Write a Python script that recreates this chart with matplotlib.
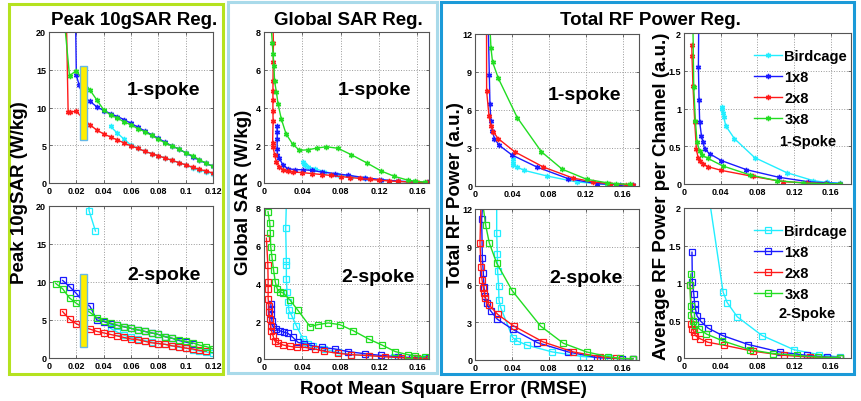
import numpy as np
import matplotlib
matplotlib.use("Agg")
import matplotlib.pyplot as plt
from matplotlib.patches import Rectangle
from matplotlib.ticker import FuncFormatter

plt.rcParams['font.family'] = ['Liberation Sans', 'DejaVu Sans']
plt.rcParams['font.weight'] = 'bold'

nan = np.nan
series_names = ["Birdcage", "1x8", "2x8", "3x8"]

# ---- Peak 10gSAR regularisation, 1 spoke ----
p1_cage_x = [0.045, 0.05, 0.055, 0.06, 0.065, 0.07, 0.075, 0.08, 0.085, 0.09, 0.095, 0.1, 0.105, 0.11, 0.115, 0.12]
p1_cage_y = [7.5, 6.6, 5.8, 5.0, 4.6, 4.2, 3.9, 3.6, 3.3, 3.0, 2.7, 2.4, 2.0, 1.7, 1.5, 1.2]
p1_1x8_x = [0.0195, 0.02, 0.022, 0.025, 0.03, 0.035, 0.04, 0.045, 0.05, 0.055, 0.06, 0.065, 0.07, 0.075,
            0.08, 0.085, 0.09, 0.095, 0.1, 0.105, 0.11, 0.115, 0.12]
p1_1x8_y = [21, 14.3, 13.0, 11.4, 10.8, 10.1, 9.6, 9.2, 8.8, 8.4, 7.9, 7.4, 6.9, 6.4, 5.9, 5.4, 4.9, 4.5,
            4.0, 3.5, 3.0, 2.6, 2.2]
p1_2x8_x = [0.0128, 0.014, 0.015, 0.02, 0.025, 0.03, 0.035, 0.04, 0.045, 0.05, 0.055, 0.06, 0.065, 0.07,
            0.075, 0.08, 0.085, 0.09, 0.095, 0.1, 0.105, 0.11, 0.115, 0.12]
p1_2x8_y = [21, 9.4, 9.4, 9.5, 8.5, 7.7, 7.0, 6.5, 6.1, 5.7, 5.3, 4.9, 4.6, 4.2, 3.9, 3.6, 3.3, 3.0, 2.7,
            2.4, 2.1, 1.8, 1.6, 1.3]
p1_3x8_x = [0.0115, 0.015, 0.02, 0.025, 0.03, 0.035, 0.04, 0.045, 0.05, 0.055, 0.06, 0.065, 0.07, 0.075,
            0.08, 0.085, 0.09, 0.095, 0.1, 0.105, 0.11, 0.115, 0.12]
p1_3x8_y = [21, 14.2, 14.9, 13.5, 12.3, 11.0, 9.7, 9.0, 8.6, 8.1, 7.7, 7.2, 6.8, 6.3, 5.8, 5.3, 4.9, 4.5,
            4.0, 3.6, 3.1, 2.6, 2.2]

# ---- Peak 10gSAR regularisation, 2 spokes ----
p2_cage_x = [0.0292, 0.0293, 0.034, nan, 0.045, 0.05, 0.055, 0.06, 0.065, 0.07, 0.075, 0.08, 0.085, 0.09,
             0.095, 0.1, 0.105, 0.11, 0.115, 0.12]
p2_cage_y = [21, 19.4, 16.7, nan, 3.9, 3.4, 3.0, 2.7, 2.5, 2.3, 2.1, 1.9, 1.8, 1.6, 1.4, 1.3, 1.1, 0.9,
             0.8, 0.6]
p2_1x8_x = [0.01, 0.015, 0.02, 0.025, 0.03, 0.035, 0.04, 0.045, 0.05, 0.055, 0.06, 0.065, 0.07, 0.075,
            0.08, 0.085, 0.09, 0.095, 0.1, 0.105]
p2_1x8_y = [10.2, 9.4, 8.5, 7.4, 6.8, 5.0, 4.8, 4.5, 4.3, 4.1, 3.9, 3.7, 3.5, 3.3, 3.1, 2.8, 2.6, 2.3,
            2.1, 1.9]
p2_2x8_x = [0.01, 0.015, 0.02, 0.025, 0.03, 0.035, 0.04, 0.045, 0.05, 0.055, 0.06, 0.065, 0.07, 0.075,
            0.08, 0.085, 0.09, 0.095, 0.1, 0.105, 0.11, 0.115]
p2_2x8_y = [6.1, 5.1, 4.5, 4.1, 3.8, 3.5, 3.3, 3.1, 2.9, 2.7, 2.5, 2.4, 2.2, 2.0, 1.9, 1.8, 1.6, 1.5,
            1.3, 1.2, 1.0, 0.9]
p2_3x8_x = [0.005, 0.01, 0.015, 0.02, 0.025, 0.03, 0.035, 0.04, 0.045, 0.05, 0.055, 0.06, 0.065, 0.07,
            0.075, 0.08, 0.085, 0.09, 0.095, 0.1, 0.105, 0.11, 0.115, 0.12]
p2_3x8_y = [9.8, 9.1, 7.9, 7.2, 6.6, 6.0, 5.3, 4.9, 4.6, 4.3, 4.1, 3.9, 3.7, 3.5, 3.3, 3.1, 2.8, 2.6,
            2.4, 2.2, 2.0, 1.7, 1.5, 1.2]

# ---- Global SAR regularisation, 1 spoke ----
g1_cage_x = [0.041, 0.0415, 0.0424, 0.046, 0.053, 0.063, 0.077, 0.091, 0.105, 0.122, 0.14, 0.155, 0.168]
g1_cage_y = [1.1, 1.0, 0.94, 0.85, 0.76, 0.6, 0.45, 0.33, 0.26, 0.15, 0.09, 0.05, 0.02]
g1_1x8_x = [0.0135, 0.0138, 0.0137, 0.0137, 0.014, 0.016, 0.02, 0.025, 0.032, 0.041, 0.05, 0.06, 0.074,
            0.088, 0.105, 0.122, 0.14, 0.157, 0.171]
g1_1x8_y = [3.0, 2.7, 2.35, 1.8, 1.5, 1.3, 0.94, 0.76, 0.71, 0.7, 0.67, 0.58, 0.5, 0.41, 0.28, 0.18, 0.1,
            0.05, 0.03]
g1_2x8_x = [0.0095, 0.0098, 0.0096, 0.0094, 0.0093, 0.0093, 0.0093, 0.0095, 0.009, 0.0095, 0.011, 0.013,
            0.016, 0.02, 0.025, 0.03, 0.04, 0.05, 0.06, 0.07, 0.08, 0.09, 0.1, 0.11, 0.12, 0.13, 0.14,
            0.15, 0.16, 0.17]
g1_2x8_y = [8.2, 7.4, 6.4, 5.4, 4.9, 4.4, 3.8, 3.3, 2.1, 1.9, 1.5, 1.1, 0.85, 0.7, 0.62, 0.58, 0.55, 0.5,
            0.45, 0.4, 0.34, 0.29, 0.24, 0.19, 0.15, 0.11, 0.08, 0.06, 0.04, 0.03]
g1_3x8_x = [0.0077, 0.0087, 0.0094, 0.0104, 0.011, 0.013, 0.0146, 0.018, 0.023, 0.03, 0.037, 0.046,
            0.055, 0.065, 0.077, 0.091, 0.107, 0.122, 0.136, 0.15, 0.157, 0.168]
g1_3x8_y = [8.1, 7.4, 6.85, 6.2, 5.4, 4.8, 4.2, 3.4, 2.6, 2.05, 1.73, 1.76, 1.85, 1.92, 1.84, 1.5, 1.07,
            0.64, 0.35, 0.15, 0.1, 0.04]

# ---- Global SAR regularisation, 2 spokes ----
g2_cage_x = [0.0233, 0.0226, 0.0233, 0.0233, 0.0233, 0.024, 0.025, 0.026, 0.0285, 0.0337, 0.0407, 0.042,
             0.046, 0.051, 0.063, 0.077, 0.091, 0.109, 0.136, 0.154, 0.168]
g2_cage_y = [8.2, 6.95, 5.2, 5.0, 4.25, 3.54, 3.0, 2.57, 2.34, 1.77, 1.06, 0.88, 0.8, 0.67, 0.53, 0.35,
             0.23, 0.18, 0.09, 0.05, 0.04]
g2_1x8_x = [0.0071, 0.0077, 0.0077, 0.0083, 0.0094, 0.013, 0.0163, 0.021, 0.025, 0.03, 0.0355, 0.042,
            0.049, 0.06, 0.074, 0.088, 0.105, 0.122, 0.14, 0.154, 0.172]
g2_1x8_y = [2.9, 2.65, 2.4, 2.0, 1.7, 1.6, 1.5, 1.42, 1.36, 1.15, 0.88, 0.8, 0.71, 0.62, 0.53, 0.39, 0.28,
            0.19, 0.12, 0.07, 0.05]
g2_2x8_x = [0.0025, 0.004, 0.0043, 0.0043, 0.0043, 0.0052, 0.0052, 0.006, 0.007, 0.0077, 0.0094, 0.011,
            0.0146, 0.02, 0.027, 0.034, 0.043, 0.053, 0.063, 0.077, 0.091, 0.109, 0.126, 0.143, 0.16, 0.171]
g2_2x8_y = [6.4, 5.0, 4.07, 3.7, 3.2, 2.8, 2.5, 2.1, 1.77, 1.5, 1.24, 0.97, 0.85, 0.74, 0.67, 0.62, 0.62,
            0.53, 0.41, 0.3, 0.23, 0.18, 0.12, 0.07, 0.04, 0.02]
g2_3x8_x = [0.0042, 0.006, 0.0066, 0.007, 0.0083, 0.01, 0.0118, 0.0139, 0.0163, 0.02, 0.027, 0.0355,
            0.048, 0.056, 0.067, 0.079, 0.093, 0.109, 0.123, 0.137, 0.15, 0.157, 0.168]
g2_3x8_y = [7.8, 7.2, 6.67, 5.96, 5.4, 4.7, 4.07, 3.7, 3.57, 3.5, 3.13, 2.57, 1.72, 1.82, 1.91, 1.82, 1.5,
            1.06, 0.74, 0.39, 0.23, 0.16, 0.12]

# ---- Total RF power regularisation, 1 spoke ----
t1_cage_x = [0.0408, 0.0408, 0.0415, 0.045, 0.053, 0.078, 0.11, 0.1426, 0.157, 0.171]
t1_cage_y = [2.1, 1.85, 1.66, 1.53, 1.24, 0.79, 0.32, 0.13, 0.08, 0.08]
t1_1x8_x = [0.0144, 0.0155, 0.0162, 0.0173, 0.0188, 0.021, 0.0264, 0.04, 0.067, 0.101, 0.132, 0.157, 0.171]
t1_1x8_y = [12.5, 8.8, 6.5, 5.1, 4.35, 3.75, 3.2, 2.45, 1.5, 0.58, 0.18, 0.1, 0.08]
t1_2x8_x = [0.0125, 0.0126, 0.0152, 0.0173, 0.02, 0.025, 0.043, 0.074, 0.106, 0.128, 0.146, 0.164, 0.171]
t1_2x8_y = [12.5, 7.5, 5.5, 4.75, 4.27, 3.75, 2.7, 1.5, 0.63, 0.32, 0.18, 0.1, 0.08]
t1_3x8_x = [0.0162, 0.0173, 0.019, 0.0253, 0.0458, 0.072, 0.0946, 0.121, 0.1426, 0.153, 0.168]
t1_3x8_y = [12.5, 10.9, 9.8, 8.5, 5.4, 2.7, 1.32, 0.53, 0.26, 0.18, 0.13]

# ---- Total RF power regularisation, 2 spokes ----
t2_cage_x = [0.0235, 0.0235, 0.0242, 0.0245, 0.0256, 0.026, 0.0278, 0.0408, 0.0458, 0.0567, 0.0838,
             0.117, 0.146, 0.171]
t2_cage_y = [12.5, 10.1, 8.4, 7.1, 5.9, 4.75, 4.16, 1.78, 1.51, 1.17, 0.64, 0.27, 0.13, 0.1]
t2_1x8_x = [0.0085, 0.0072, 0.008, 0.009, 0.0097, 0.0108, 0.0126, 0.017, 0.0242, 0.0408, 0.0675, 0.101,
            0.132, 0.159, 0.171]
t2_1x8_y = [12.5, 11.2, 8.1, 6.95, 5.84, 5.1, 4.5, 3.9, 3.24, 2.44, 1.38, 0.64, 0.19, 0.1, 0.1]
t2_2x8_x = [0.0065, 0.0054, 0.0065, 0.0076, 0.009, 0.0101, 0.0108, 0.0155, 0.0245, 0.042, 0.074, 0.1065,
            0.135, 0.153, 0.171]
t2_2x8_y = [12.5, 9.3, 7.4, 6.37, 5.76, 5.36, 4.96, 4.35, 3.63, 2.7, 1.43, 0.64, 0.27, 0.13, 0.1]
t2_3x8_x = [0.0083, 0.0116, 0.0155, 0.0235, 0.0404, 0.071, 0.0957, 0.121, 0.144, 0.157, 0.171]
t2_3x8_y = [12.5, 10.7, 9.3, 7.7, 5.5, 2.7, 1.33, 0.64, 0.27, 0.13, 0.1]

# ---- Average RF power per channel, 1 spoke ----
a1_cage_x = [0.0415, 0.0419, 0.0425, 0.0433, 0.0455, 0.055, 0.077, 0.112, 0.141, 0.156, 0.17]
a1_cage_y = [1.02, 0.99, 0.94, 0.89, 0.77, 0.6, 0.35, 0.15, 0.044, 0.02, 0.013]
a1_1x8_x = [0.016, 0.0157, 0.0164, 0.0171, 0.019, 0.0208, 0.0226, 0.028, 0.0408, 0.068, 0.103, 0.1355,
            0.155, 0.17]
a1_1x8_y = [2.05, 1.55, 1.11, 0.82, 0.64, 0.55, 0.46, 0.4, 0.31, 0.19, 0.09, 0.03, 0.015, 0.005]
a1_2x8_x = [0.0085, 0.0087, 0.0098, 0.0117, 0.0135, 0.0153, 0.0171, 0.0208, 0.026, 0.0408, 0.0754, 0.108,
            0.134, 0.155, 0.17]
a1_2x8_y = [1.84, 1.7, 1.3, 0.82, 0.46, 0.35, 0.3, 0.27, 0.23, 0.18, 0.1, 0.03, 0.015, 0.005, 0.002]
a1_3x8_x = [0.0098, 0.0106, 0.0124, 0.0142, 0.0171, 0.02, 0.026, 0.042, 0.072, 0.101, 0.13, 0.155, 0.17]
a1_3x8_y = [2.05, 1.28, 0.84, 0.55, 0.44, 0.38, 0.34, 0.24, 0.12, 0.045, 0.013, 0.005, 0.002]

# ---- Average RF power per channel, 2 spokes ----
a2_cage_x = [0.0266, 0.0426, 0.047, 0.058, 0.085, 0.12, 0.1475, 0.17]
a2_cage_y = [2.2, 0.88, 0.74, 0.55, 0.3, 0.11, 0.044, 0.013]
a2_1x8_x = [0.0087, 0.0091, 0.0106, 0.0117, 0.0124, 0.0142, 0.0182, 0.026, 0.0419, 0.07, 0.1045, 0.134,
            0.156, 0.17]
a2_1x8_y = [1.41, 1.01, 0.86, 0.72, 0.66, 0.56, 0.49, 0.4, 0.3, 0.18, 0.08, 0.035, 0.013, 0.005]
a2_2x8_x = [0.0069, 0.008, 0.0091, 0.011, 0.0124, 0.0171, 0.026, 0.0437, 0.0754, 0.109, 0.137, 0.17]
a2_2x8_y = [0.97, 0.46, 0.39, 0.35, 0.3, 0.26, 0.21, 0.17, 0.09, 0.035, 0.013, 0.005]
a2_3x8_x = [0.0075, 0.0065, 0.0073, 0.008, 0.0098, 0.0117, 0.0164, 0.0244, 0.0419, 0.0718, 0.097, 0.123,
            0.146, 0.17]
a2_3x8_y = [1.12, 0.97, 0.7, 0.58, 0.5, 0.44, 0.39, 0.32, 0.23, 0.11, 0.06, 0.035, 0.013, 0.005]

# highlighted RMSE band in the peak 10gSAR panels (x range, y range)
hl_x = (0.0225, 0.0275)
hl1_y = (5.7, 15.5)
hl2_y = (1.5, 11.0)

colors = ['#22eeff', '#1a1aff', '#ff1a1a', '#22dd22']
W, H = 861, 402

fig = plt.figure(figsize=(W / 100, H / 100), dpi=100)


def add_ax(l, t, r, b):
    return fig.add_axes([l / W, 1 - b / H, (r - l) / W, (b - t) / H])


def style_ax(ax, xlim, ylim, xticks, yticks):
    ax.set_xlim(*xlim)
    ax.set_ylim(*ylim)
    ax.set_xticks(xticks)
    ax.set_yticks(yticks)
    fmt = FuncFormatter(lambda v, p: '%g' % round(v, 4))
    ax.xaxis.set_major_formatter(fmt)
    ax.yaxis.set_major_formatter(fmt)
    ax.tick_params(direction='in', length=2, width=0.6, labelsize=6.5, pad=2,
                   top=True, right=True, color='#555555')
    for lab in ax.get_xticklabels() + ax.get_yticklabels():
        lab.set_fontweight('bold')
    ax.grid(True, linestyle=':', color='#999999', linewidth=0.7)
    for s in ax.spines.values():
        s.set_color('#555555')
        s.set_linewidth(0.8)


def draw(ax, data, spokes):
    for (x, y), c, name in zip(data, colors, series_names):
        if spokes == 1:
            ax.plot(x, y, color=c, lw=1.0, marker=(6, 2, 0), ms=3.8, mew=1.0, label=name)
        else:
            ax.plot(x, y, color=c, lw=1.0, marker='s', ms=4, mew=0.9, mfc='none', label=name)


def spoke_text(ax, txt, fx, fy):
    ax.text(fx, fy, txt, transform=ax.transAxes, ha='center', va='center',
            fontsize=14, fontweight='bold')


# frames round each regularisation group
for (l, t, r, b), c, lw in [((9, 5, 223, 375), '#b5e21f', 2.2),
                            ((228, 3, 437, 374), '#a9daea', 2.2),
                            ((441, 3, 854, 375), '#1b9ad8', 2.2)]:
    fig.patches.append(Rectangle((l / W, 1 - b / H), (r - l) / W, (b - t) / H,
                                 transform=fig.transFigure, fill=False, edgecolor=c,
                                 linewidth=lw))

# peak 10gSAR
ax = add_ax(49, 33, 213, 184)
draw(ax, [(p1_cage_x, p1_cage_y), (p1_1x8_x, p1_1x8_y), (p1_2x8_x, p1_2x8_y), (p1_3x8_x, p1_3x8_y)], 1)
style_ax(ax, (0, 0.12), (0, 20), np.arange(0, 0.121, 0.02), [0, 5, 10, 15, 20])
ax.add_patch(Rectangle((hl_x[0], hl1_y[0]), hl_x[1] - hl_x[0], hl1_y[1] - hl1_y[0],
                       facecolor='#ffee00', edgecolor='#66b8e8', lw=1.0, zorder=4))
spoke_text(ax, '1-spoke', 0.70, 0.62)

ax = add_ax(49, 207, 213, 359)
draw(ax, [(p2_cage_x, p2_cage_y), (p2_1x8_x, p2_1x8_y), (p2_2x8_x, p2_2x8_y), (p2_3x8_x, p2_3x8_y)], 2)
style_ax(ax, (0, 0.12), (0, 20), np.arange(0, 0.121, 0.02), [0, 5, 10, 15, 20])
ax.add_patch(Rectangle((hl_x[0], hl2_y[0]), hl_x[1] - hl_x[0], hl2_y[1] - hl2_y[0],
                       facecolor='#ffee00', edgecolor='#66b8e8', lw=1.0, zorder=4))
spoke_text(ax, '2-spoke', 0.70, 0.55)

# global SAR
ax = add_ax(264, 33, 429, 184)
draw(ax, [(g1_cage_x, g1_cage_y), (g1_1x8_x, g1_1x8_y), (g1_2x8_x, g1_2x8_y), (g1_3x8_x, g1_3x8_y)], 1)
style_ax(ax, (0, 0.172), (0, 8), [0, 0.04, 0.08, 0.12, 0.16], [0, 2, 4, 6, 8])
spoke_text(ax, '1-spoke', 0.67, 0.62)

ax = add_ax(264, 209, 429, 360)
draw(ax, [(g2_cage_x, g2_cage_y), (g2_1x8_x, g2_1x8_y), (g2_2x8_x, g2_2x8_y), (g2_3x8_x, g2_3x8_y)], 2)
style_ax(ax, (0, 0.172), (0, 8), [0, 0.04, 0.08, 0.12, 0.16], [0, 2, 4, 6, 8])
spoke_text(ax, '2-spoke', 0.69, 0.545)

# total RF power
ax = add_ax(475, 35, 639, 187)
draw(ax, [(t1_cage_x, t1_cage_y), (t1_1x8_x, t1_1x8_y), (t1_2x8_x, t1_2x8_y), (t1_3x8_x, t1_3x8_y)], 1)
style_ax(ax, (0, 0.1777), (0, 12), [0, 0.04, 0.08, 0.12, 0.16], [0, 3, 6, 9, 12])
spoke_text(ax, '1-spoke', 0.67, 0.605)

ax = add_ax(475, 210, 639, 361)
draw(ax, [(t2_cage_x, t2_cage_y), (t2_1x8_x, t2_1x8_y), (t2_2x8_x, t2_2x8_y), (t2_3x8_x, t2_3x8_y)], 2)
style_ax(ax, (0, 0.1777), (0, 12), [0, 0.04, 0.08, 0.12, 0.16], [0, 3, 6, 9, 12])
spoke_text(ax, '2-spoke', 0.675, 0.545)

# average RF power per channel
ax = add_ax(684, 34, 851, 185)
draw(ax, [(a1_cage_x, a1_cage_y), (a1_1x8_x, a1_1x8_y), (a1_2x8_x, a1_2x8_y), (a1_3x8_x, a1_3x8_y)], 1)
style_ax(ax, (0, 0.182), (0, 2), [0, 0.04, 0.08, 0.12, 0.16], [0, 0.5, 1, 1.5, 2])
ax.legend(loc='upper left', bbox_to_anchor=(0.36, 0.96), frameon=False,
          handlelength=1.9, handletextpad=0.15, labelspacing=0.47, borderpad=0.2,
          prop={'weight': 'bold', 'size': 10.5})
ax.text(0.74, 0.285, '1-Spoke', transform=ax.transAxes, ha='center', va='center',
        fontsize=10.5, fontweight='bold')

ax = add_ax(684, 209, 851, 359)
draw(ax, [(a2_cage_x, a2_cage_y), (a2_1x8_x, a2_1x8_y), (a2_2x8_x, a2_2x8_y), (a2_3x8_x, a2_3x8_y)], 2)
style_ax(ax, (0, 0.182), (0, 2), [0, 0.04, 0.08, 0.12, 0.16], [0, 0.5, 1, 1.5, 2])
ax.legend(loc='upper left', bbox_to_anchor=(0.36, 0.96), frameon=False,
          handlelength=1.9, handletextpad=0.15, labelspacing=0.47, borderpad=0.2,
          prop={'weight': 'bold', 'size': 10.5})
ax.text(0.74, 0.30, '2-Spoke', transform=ax.transAxes, ha='center', va='center',
        fontsize=10.5, fontweight='bold')

# group titles, y labels and shared x label
for txt, x in [('Peak 10gSAR Reg.', 134), ('Global SAR Reg.', 348), ('Total RF Power Reg.', 650)]:
    fig.text(x / W, 1 - 25 / H, txt, ha='center', va='baseline', fontsize=13.5, fontweight='bold')

for txt, x, y in [('Peak 10gSAR (W/kg)', 20, 193), ('Global SAR (W/kg)', 244, 192),
                  ('Total RF Power (a.u.)', 455, 195),
                  ('Average RF Power per Channel (a.u.)', 661, 196)]:
    fig.text(x / W, 1 - y / H, txt, rotation=90, ha='center', va='center',
             fontsize=13.5, fontweight='bold')

fig.text(443 / W, 1 - 394 / H, 'Root Mean Square Error (RMSE)', ha='center', va='baseline',
         fontsize=13.5, fontweight='bold')

fig.savefig('out.png', dpi=100)
